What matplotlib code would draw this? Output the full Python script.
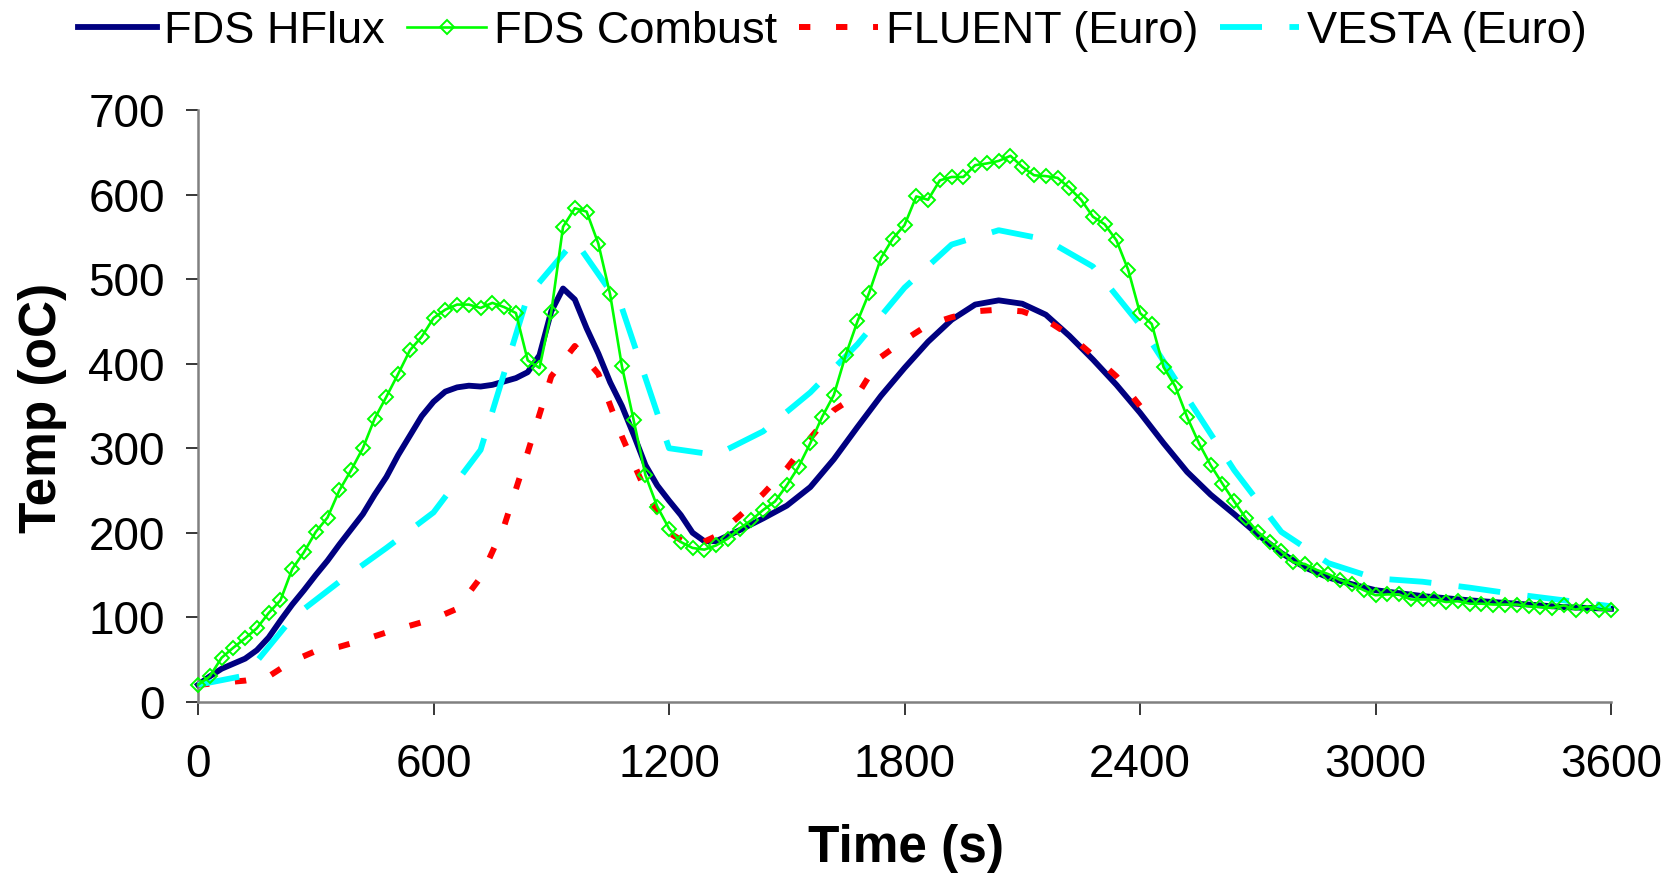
import matplotlib
matplotlib.use("Agg")
from matplotlib import pyplot as plt

plt.rcParams['font.family'] = ['Liberation Sans', 'DejaVu Sans']

# FDS HFlux (solid navy)
hflux_t = [0, 30, 60, 90, 120, 150, 180, 210, 240, 270, 300, 330, 360, 390, 420,
           450, 480, 510, 540, 570, 600, 630, 660, 690, 720, 750, 780, 810, 840,
           870, 900, 930, 960, 990, 1020, 1050, 1080, 1110, 1140, 1170, 1200,
           1230, 1260, 1290, 1320, 1380, 1440, 1500, 1560, 1620, 1680, 1740,
           1800, 1860, 1920, 1980, 2040, 2100, 2160, 2220, 2280, 2340, 2400,
           2460, 2520, 2580, 2640, 2700, 2760, 2820, 2880, 2940, 3000, 3120,
           3240, 3360, 3480, 3600]
hflux_T = [20, 30, 39, 45, 51, 61, 76, 96, 115, 132, 150, 167, 186, 204, 222,
           245, 266, 292, 315, 338, 355, 367, 372, 374, 373, 375, 379, 383, 390,
           410, 462, 489, 476, 442, 412, 378, 350, 316, 280, 256, 238,
           221, 200, 190, 190, 203, 217, 232, 254, 287, 325, 362,
           395, 426, 452, 470, 475, 471, 458, 433, 405, 375, 342,
           306, 272, 245, 222, 198, 176, 159, 147, 139, 132, 125,
           120, 116, 112, 110]

# FDS Combust (green with diamonds), every 30 s
combust_t = list(range(0, 3601, 30))
combust_T = [20, 30, 52, 64, 75, 87, 105, 120, 157, 177,
             201, 218, 250, 274, 300, 335, 361, 388, 416, 432,
             454, 464, 470, 470, 466, 472, 467, 460, 404, 395,
             461, 562, 584, 580, 542, 482, 397, 333, 268, 231,
             205, 189, 182, 180, 185, 193, 205, 215, 227, 237,
             256, 278, 306, 337, 363, 410, 450, 484, 525, 548,
             564, 598, 594, 617, 621, 621, 635, 637, 640, 646,
             633, 623, 622, 620, 608, 594, 574, 565, 546, 511,
             460, 447, 396, 373, 337, 306, 280, 258, 237, 217,
             201, 189, 178, 165, 163, 156, 151, 144, 139, 132,
             126, 127, 127, 121, 121, 121, 118, 119, 116, 116,
             115, 115, 115, 113, 112, 111, 114, 109, 113, 109,
             109]

# FLUENT (Euro), red dotted
fluent_t = [0, 120, 180, 240, 300, 360, 420, 480, 540, 600, 660, 720, 780, 840,
            900, 960, 1020, 1080, 1140, 1200, 1260, 1320, 1380, 1440, 1500,
            1560, 1620, 1680, 1740, 1800, 1860, 1920, 1980, 2040, 2100, 2160,
            2220, 2280, 2340, 2400]
fluent_T = [20, 25, 30, 48, 60, 65, 73, 82, 90, 98, 110, 147, 208, 295,
            385, 421, 388, 314, 250, 200, 183, 196, 220, 246, 276,
            312, 345, 363, 408, 428, 446, 455, 462, 464, 462, 452,
            434, 410, 385, 350]

# VESTA (Euro), cyan long dash
vesta_t = [0, 120, 240, 360, 480, 600, 720, 840, 960, 1080, 1200, 1320, 1440,
           1560, 1680, 1800, 1920, 2040, 2160, 2280, 2400, 2520, 2640, 2760,
           2880, 3000, 3120, 3240, 3360, 3480, 3600]
vesta_T = [20, 31, 99, 142, 182, 224, 298, 480, 546, 466, 300, 292, 320,
           366, 423, 490, 541, 558, 547, 515, 446, 360, 274, 201,
           164, 146, 142, 135, 127, 120, 113]

fig = plt.figure(figsize=(16.71, 8.74), dpi=100)
ax = fig.add_axes([0.1185, 0.1971, 0.8456, 0.6768])

l1, = ax.plot(hflux_t, hflux_T, color='#000080', lw=4.2, zorder=2, clip_on=False)
l3, = ax.plot(fluent_t, fluent_T, color='#FF0000', lw=4.3, zorder=3,
              dashes=(1.9, 4.3), dash_capstyle='butt', clip_on=False)
l4, = ax.plot(vesta_t, vesta_T, color='#00FFFF', lw=4.2, zorder=4,
              dashes=(7.2, 4.7), dash_capstyle='butt', clip_on=False)
l2, = ax.plot(combust_t, combust_T, color='#00FF00', lw=1.9, zorder=5,
              marker='D', ms=6.8, mfc='none', mec='#00FF00', mew=1.4, clip_on=False)

ax.set_xlim(0, 3600)
ax.set_ylim(0, 700)
ax.set_xticks(range(0, 3601, 600))
ax.set_yticks(range(0, 701, 100))

for s in ['top', 'right']:
    ax.spines[s].set_visible(False)
for s in ['left', 'bottom']:
    ax.spines[s].set_color('#808080')
    ax.spines[s].set_linewidth(1.8)

ax.tick_params(axis='both', direction='out', length=9, width=1.1, color='black',
               labelsize=33)
ax.tick_params(axis='x', pad=21)
ax.tick_params(axis='y', pad=15)

ax.set_xlabel('Time (s)', fontsize=37, fontweight='bold')
ax.set_ylabel('Temp (oC)', fontsize=37, fontweight='bold')
ax.xaxis.set_label_coords(0.542, 0.057, transform=fig.transFigure)
ax.yaxis.set_label_coords(0.040, 0.533, transform=fig.transFigure)

fig.legend([l1, l2, l3, l4],
           ['FDS HFlux', 'FDS Combust', 'FLUENT (Euro)', 'VESTA (Euro)'],
           loc='center', bbox_to_anchor=(0.498, 0.964), ncol=4, frameon=False,
           fontsize=32.5, handlelength=1.75, handletextpad=0.16, columnspacing=0.5,
           borderaxespad=0)

fig.savefig('out.png', dpi=100)
